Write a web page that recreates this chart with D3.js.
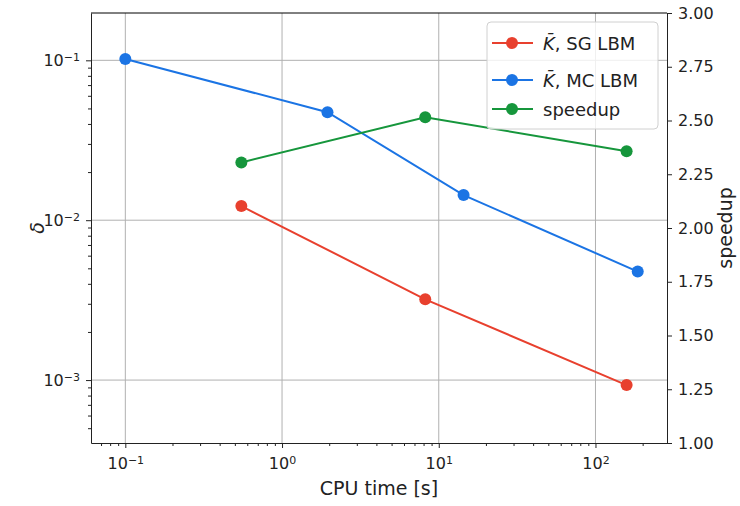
<!DOCTYPE html>
<html>
<head>
<meta charset="utf-8">
<script src="https://d3js.org/d3.v7.min.js"></script>
<style>
  body { margin: 0; background: #fff; }
  text { font-family: "DejaVu Sans", sans-serif; }
</style>
</head>
<body>
<div id="chart"></div>
<script>
// data
var sgTime = [0.55, 8.2, 158];
var sgDelta = [0.01225, 0.0032, 0.00093];
var mcTime = [0.1, 1.95, 14.4, 186];
var mcDelta = [0.102, 0.0474, 0.01436, 0.00477];
var spTime = [0.55, 8.2, 158];
var speedup = [2.305, 2.515, 2.357];
var xTickExp = [-1, 0, 1, 2];
var yTickExp = [-3, -2, -1];
var rightTicks = [1.00, 1.25, 1.50, 1.75, 2.00, 2.25, 2.50, 2.75, 3.00];

var colors = {sg: "#e8402e", mc: "#1b74e4", sp: "#16963c"};

var W = 740, H = 506;
var margin = {top: 13, right: 73, bottom: 63, left: 91};
var width = W - margin.left - margin.right,
    height = H - margin.top - margin.bottom;

var svg = d3.select("#chart").append("svg")
    .attr("width", W).attr("height", H);
var g = svg.append("g")
    .attr("transform", "translate(" + margin.left + "," + margin.top + ")");

var x = d3.scaleLog().domain([0.0604, 286]).range([0, width]);
var y = d3.scaleLog().domain([4.04e-4, 0.1977]).range([height, 0]);
var y2 = d3.scaleLinear().domain([1, 3]).range([height, 0]);

function minors(scale) {
  var d = scale.domain(), out = [];
  for (var e = -5; e <= 4; e++)
    for (var m = 2; m <= 9; m++) {
      var v = m * Math.pow(10, e);
      if (v >= d[0] && v <= d[1]) out.push(v);
    }
  return out;
}

// grid
g.append("g").selectAll("line").data(xTickExp).enter().append("line")
  .attr("x1", function(d) { return x(Math.pow(10, d)); })
  .attr("x2", function(d) { return x(Math.pow(10, d)); })
  .attr("y1", 0).attr("y2", height)
  .attr("stroke", "#b0b0b0").attr("stroke-width", 1);
g.append("g").selectAll("line").data(yTickExp).enter().append("line")
  .attr("y1", function(d) { return y(Math.pow(10, d)); })
  .attr("y2", function(d) { return y(Math.pow(10, d)); })
  .attr("x1", 0).attr("x2", width)
  .attr("stroke", "#b0b0b0").attr("stroke-width", 1);

function powLabel(sel) {
  sel.selectAll(".tick text").each(function(d) {
    var t = d3.select(this).text("");
    t.append("tspan").text("10");
    t.append("tspan").attr("class", "sup").attr("dy", "-0.45em")
      .text(String(Math.round(Math.log10(d))).replace("-", "\u2212"));
  });
}

// x axis
var xAx = g.append("g").attr("transform", "translate(0," + height + ")")
  .call(d3.axisBottom(x).tickValues(xTickExp.map(function(e) { return Math.pow(10, e); }))
    .tickSize(5).tickPadding(10).tickSizeOuter(0));
powLabel(xAx);
g.append("g").attr("transform", "translate(0," + height + ")")
  .call(d3.axisBottom(x).tickValues(minors(x)).tickSize(3).tickFormat("").tickSizeOuter(0))
  .select(".domain").remove();

// left y axis
var yAx = g.append("g")
  .call(d3.axisLeft(y).tickValues(yTickExp.map(function(e) { return Math.pow(10, e); }))
    .tickSize(5).tickPadding(6).tickSizeOuter(0));
powLabel(yAx);
g.append("g")
  .call(d3.axisLeft(y).tickValues(minors(y)).tickSize(3).tickFormat("").tickSizeOuter(0))
  .select(".domain").remove();

// right y axis
g.append("g").attr("transform", "translate(" + width + ",0)")
  .call(d3.axisRight(y2).tickValues(rightTicks).tickFormat(d3.format(".2f"))
    .tickSize(5).tickPadding(6).tickSizeOuter(0));

// top border
g.append("line").attr("x1", 0).attr("x2", width).attr("y1", 0).attr("y2", 0)
  .attr("stroke", "#000");

svg.selectAll(".tick text").attr("font-size", "16px").attr("fill", "#222")
  .style("font-family", "DejaVu Sans");
svg.selectAll(".tick text tspan.sup").attr("font-size", "11px");
svg.selectAll(".domain, .tick line").attr("stroke", "#222");

// series
function series(xs, ys, ysc, col) {
  var pts = xs.map(function(v, i) { return [x(v), ysc(ys[i])]; });
  g.append("path").datum(pts)
    .attr("fill", "none").attr("stroke", col).attr("stroke-width", 2)
    .attr("d", d3.line());
  g.selectAll(null).data(pts).enter().append("circle")
    .attr("cx", function(d) { return d[0]; })
    .attr("cy", function(d) { return d[1]; })
    .attr("r", 6).attr("fill", col);
}
series(sgTime, sgDelta, y, colors.sg);
series(mcTime, mcDelta, y, colors.mc);
series(spTime, speedup, y2, colors.sp);

// axis labels
svg.append("text").attr("x", margin.left + width / 2).attr("y", 495)
  .attr("text-anchor", "middle").attr("font-size", "19px").attr("fill", "#222")
  .text("CPU time [s]");
svg.append("text").attr("transform", "translate(44," + (margin.top + height / 2) + ") rotate(-90)")
  .attr("text-anchor", "middle").attr("font-size", "19px").attr("font-style", "italic")
  .attr("fill", "#222").text("\u03b4");
svg.append("text").attr("transform", "translate(732," + (margin.top + height / 2) + ") rotate(-90)")
  .attr("text-anchor", "middle").attr("font-size", "19px").attr("fill", "#222")
  .text("speedup");

// legend
var leg = svg.append("g");
leg.append("rect").attr("x", 487).attr("y", 22).attr("width", 171).attr("height", 107)
  .attr("rx", 4).attr("fill", "#fff").attr("fill-opacity", 0.8)
  .attr("stroke", "#d0d0d0");
var legItems = [
  {k: true, label: ", SG LBM", col: colors.sg, y: 43},
  {k: true, label: ", MC LBM", col: colors.mc, y: 80},
  {k: false, label: "speedup", col: colors.sp, y: 109}
];
legItems.forEach(function(d) {
  leg.append("line").attr("x1", 492).attr("x2", 533).attr("y1", d.y).attr("y2", d.y)
    .attr("stroke", d.col).attr("stroke-width", 2);
  leg.append("circle").attr("cx", 512).attr("cy", d.y).attr("r", 6).attr("fill", d.col);
  var t = leg.append("text").attr("x", 543).attr("y", d.y + 6.5)
    .attr("font-size", "18px").attr("fill", "#222");
  if (d.k) t.append("tspan").attr("font-style", "italic").text("K\u0304");
  t.append("tspan").text(d.label);
});
</script>
</body>
</html>
